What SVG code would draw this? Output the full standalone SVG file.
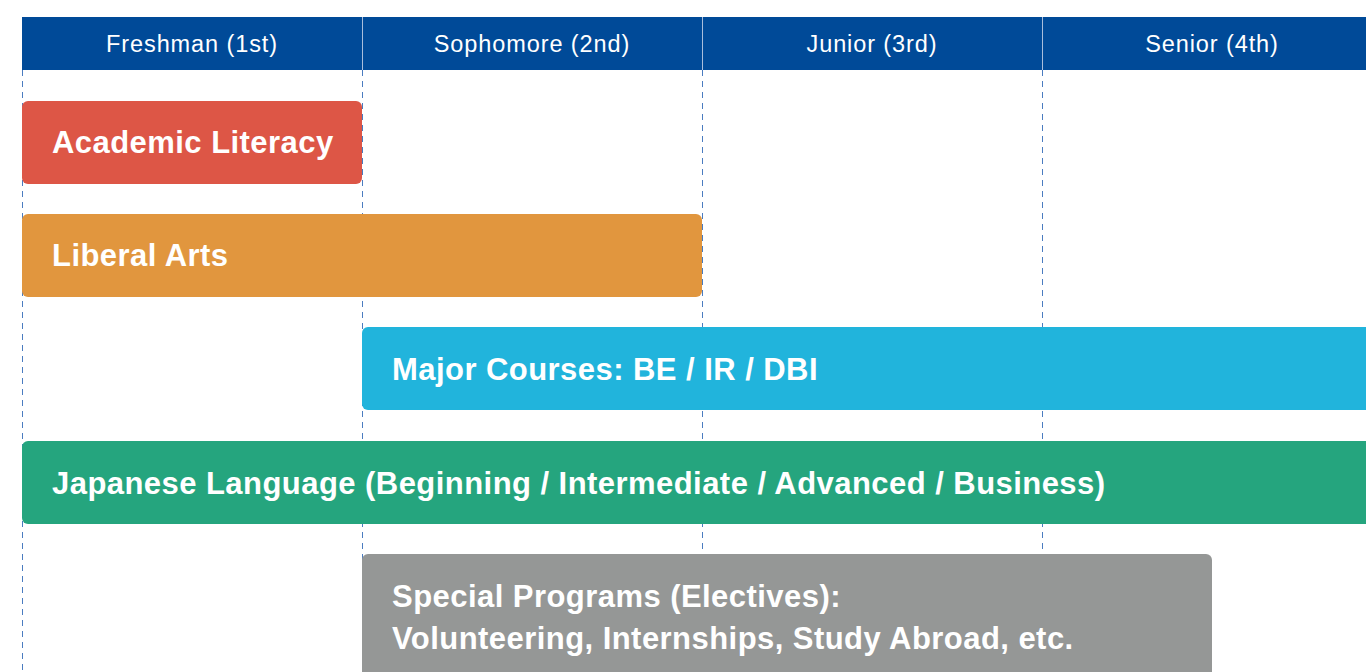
<svg xmlns="http://www.w3.org/2000/svg" width="1366" height="672" viewBox="0 0 1366 672">
<style>
.hdr{font-family:"Liberation Sans",Arial,sans-serif;font-size:23.5px;fill:#ffffff;text-anchor:middle;letter-spacing:0.9px}
.lbl{font-family:"Liberation Sans",Arial,sans-serif;font-size:31px;font-weight:bold;fill:#ffffff;letter-spacing:0.45px}
.grid{stroke:#4a7cc0;stroke-width:1;stroke-dasharray:6 5;fill:none}
.div{stroke:#a9bedc;stroke-width:1}
</style>
<rect width="1366" height="672" fill="#ffffff"/>
<g id="grid">
<line class="grid" x1="22.5" y1="70" x2="22.5" y2="672"/>
<line class="grid" x1="362.5" y1="70" x2="362.5" y2="672"/>
<line class="grid" x1="702.5" y1="70" x2="702.5" y2="672"/>
<line class="grid" x1="1042.5" y1="70" x2="1042.5" y2="672"/>
</g>
<g id="header">
<rect x="22" y="17" width="1344" height="53" fill="#004a98"/>
<line class="div" x1="362.5" y1="17" x2="362.5" y2="70"/>
<line class="div" x1="702.5" y1="17" x2="702.5" y2="70"/>
<line class="div" x1="1042.5" y1="17" x2="1042.5" y2="70"/>
<text class="hdr" x="192" y="52">Freshman (1st)</text>
<text class="hdr" x="532" y="52">Sophomore (2nd)</text>
<text class="hdr" x="872" y="52">Junior (3rd)</text>
<text class="hdr" x="1212" y="52">Senior (4th)</text>
</g>
<g id="academic-literacy">
<rect x="22" y="101" width="340" height="83" rx="6" fill="#dd5646"/>
<text class="lbl" x="52" y="153">Academic Literacy</text>
</g>
<g id="liberal-arts">
<rect x="22" y="214" width="680" height="83" rx="6" fill="#e1963e"/>
<text class="lbl" x="52" y="266">Liberal Arts</text>
</g>
<g id="major-courses">
<rect x="362" y="327" width="1020" height="83" rx="6" fill="#21b4dc"/>
<text class="lbl" x="392" y="380">Major Courses: BE / IR / DBI</text>
</g>
<g id="japanese-language">
<rect x="22" y="441" width="1360" height="83" rx="6" fill="#25a57e"/>
<text class="lbl" x="52" y="494">Japanese Language (Beginning / Intermediate / Advanced / Business)</text>
</g>
<g id="special-programs">
<rect x="362" y="554" width="850" height="140" rx="6" fill="#959796"/>
<text class="lbl" x="392" y="607">Special Programs (Electives):</text>
<text class="lbl" x="392" y="649">Volunteering, Internships, Study Abroad, etc.</text>
</g>
</svg>
